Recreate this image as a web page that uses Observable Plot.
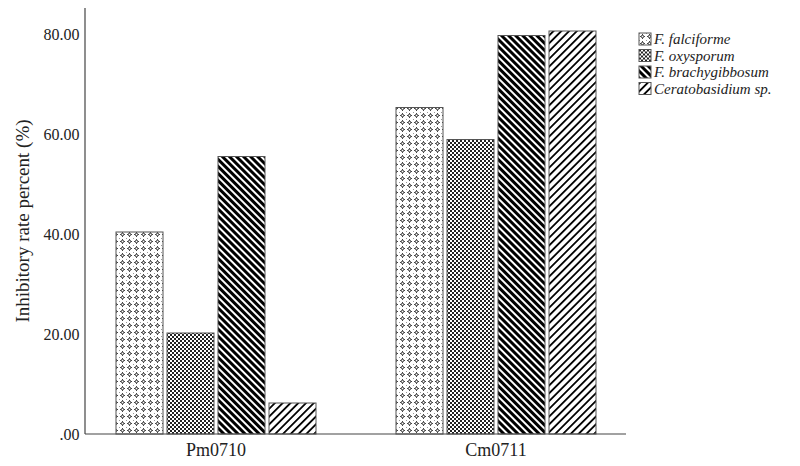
<!DOCTYPE html>
<html>
<head>
<meta charset="utf-8">
<script src="https://cdn.jsdelivr.net/npm/d3@7"></script>
<script src="https://cdn.jsdelivr.net/npm/@observablehq/plot@0.6"></script>
<style>
  html, body { margin: 0; padding: 0; background: #fff; }
  #chart { width: 800px; height: 466px; }
</style>
</head>
<body>
<div id="chart"></div>
<script>
// ---- data ----
const groups = ["Pm0710", "Cm0711"];
const series = ["F. falciforme", "F. oxysporum", "F. brachygibbosum", "Ceratobasidium sp."];
const pm0710 = [40.4, 20.2, 55.5, 6.2];
const cm0711 = [65.3, 58.9, 79.7, 80.6];
const yTicks = [0, 20, 40, 60, 80];
const yTitle = "Inhibitory rate percent (%)";
const patternIds = ["pat-falc", "pat-oxy", "pat-brachy", "pat-cerato"];

const groupValues = [pm0710, cm0711];
const data = groups.flatMap((g, gi) => series.map((s, si) => ({
  group: g, series: s, value: groupValues[gi][si], pat: `url(#${patternIds[si]})`
})));

const W = 800, H = 466, mL = 85, mR = 174, mT = 8, mB = 32;
const font = "'Liberation Serif', 'Times New Roman', serif";

const plot = Plot.plot({
  width: W, height: H,
  marginLeft: mL, marginRight: mR, marginTop: mT, marginBottom: mB,
  style: { fontFamily: font, background: "#fff", color: "#222" },
  fx: { domain: groups, paddingInner: 0.068, paddingOuter: 0 },
  x: { domain: series, paddingInner: 0.0865, paddingOuter: 0.553, axis: null },
  y: { domain: [0, 85.2] },
  color: { type: "identity" },
  marks: [
    Plot.barY(data, { fx: "group", x: "series", y: "value", fill: "pat", stroke: "#555", strokeWidth: 1 }),
    Plot.axisY({ ticks: yTicks, tickSize: 0, tickPadding: 6, fontSize: 16,
      tickFormat: d => d === 0 ? ".00" : d.toFixed(2), label: null }),
    Plot.axisFx({ anchor: "bottom", tickSize: 0, tickPadding: 9, fontSize: 18, label: null })
  ]
});

const svg = d3.select(plot);
// patterns
const defs = svg.insert("defs", ":first-child");
// falciforme: gray plus signs on white
const p0 = defs.append("pattern").attr("id", patternIds[0]).attr("patternUnits", "userSpaceOnUse")
  .attr("width", 7).attr("height", 7);
p0.append("rect").attr("width", 7).attr("height", 7).attr("fill", "#fff");
p0.append("rect").attr("x", 3).attr("y", 1).attr("width", 1).attr("height", 5).attr("fill", "#444");
p0.append("rect").attr("x", 1).attr("y", 3).attr("width", 5).attr("height", 1).attr("fill", "#444");
p0.append("rect").attr("x", 2).attr("y", 2).attr("width", 3).attr("height", 3).attr("fill", "#777");
p0.append("rect").attr("x", 3).attr("y", 3).attr("width", 1).attr("height", 1).attr("fill", "#fff");
p0.append("rect").attr("x", 0).attr("y", 0).attr("width", 1).attr("height", 1).attr("fill", "#999");
// oxysporum: fine checkerboard
const p1 = defs.append("pattern").attr("id", patternIds[1]).attr("patternUnits", "userSpaceOnUse")
  .attr("width", 4).attr("height", 4);
p1.append("rect").attr("width", 4).attr("height", 4).attr("fill", "#fff");
p1.append("rect").attr("width", 2).attr("height", 2).attr("fill", "#222");
p1.append("rect").attr("x", 2).attr("y", 2).attr("width", 2).attr("height", 2).attr("fill", "#222");
// brachygibbosum: thick black backslash stripes
const p2 = defs.append("pattern").attr("id", patternIds[2]).attr("patternUnits", "userSpaceOnUse")
  .attr("width", 5).attr("height", 10).attr("patternTransform", "rotate(-45)");
p2.append("rect").attr("width", 5).attr("height", 10).attr("fill", "#fff");
p2.append("rect").attr("width", 3).attr("height", 10).attr("fill", "#000");
// Ceratobasidium: thin black slash stripes
const p3 = defs.append("pattern").attr("id", patternIds[3]).attr("patternUnits", "userSpaceOnUse")
  .attr("width", 5.5).attr("height", 10).attr("patternTransform", "rotate(45)");
p3.append("rect").attr("width", 5.5).attr("height", 10).attr("fill", "#fff");
p3.append("rect").attr("width", 1.8).attr("height", 10).attr("fill", "#000");

// axis lines
const ys = plot.scale("y");
const y0 = ys.apply(0);
const axes = svg.append("g").attr("stroke", "#444").attr("stroke-width", 1.2);
axes.append("line").attr("x1", mL).attr("x2", mL).attr("y1", mT).attr("y2", y0);
axes.append("line").attr("x1", mL).attr("x2", W - mR).attr("y1", y0).attr("y2", y0);

// y title
svg.append("text")
  .attr("transform", `translate(22,${(mT + y0) / 2}) rotate(-90)`)
  .attr("text-anchor", "middle").attr("dy", "0.35em")
  .attr("font-size", 19).attr("fill", "#222")
  .text(yTitle);

// legend
const lg = svg.append("g").attr("transform", "translate(639,33)").attr("text-anchor", "start");
series.forEach((s, i) => {
  const row = lg.append("g").attr("transform", `translate(0,${i * 16.5})`);
  row.append("rect").attr("width", 12).attr("height", 12)
    .attr("fill", `url(#${patternIds[i]})`).attr("stroke", "#555");
  row.append("text").attr("x", 15).attr("y", 6).attr("dy", "0.35em")
    .attr("text-anchor", "start")
    .attr("font-size", 15).attr("font-style", "italic").attr("fill", "#222").text(s);
});

document.getElementById("chart").appendChild(plot);
</script>
</body>
</html>
